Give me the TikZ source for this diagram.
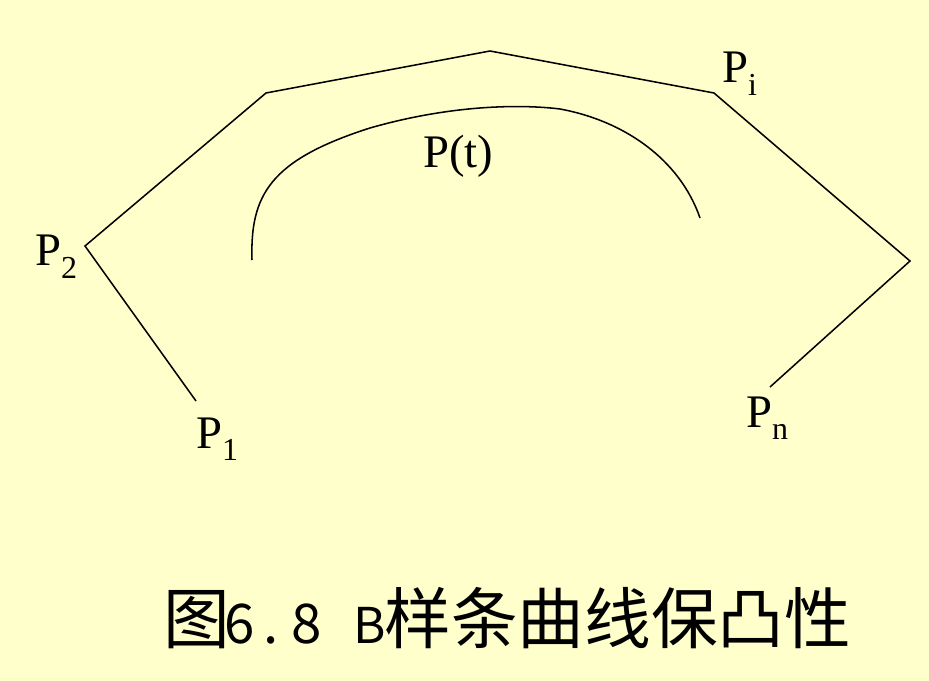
\documentclass[tikz,border=0pt]{standalone}
\usepackage{fontspec}
\setmainfont{Liberation Serif}
\newfontfamily\cjkfont{Noto Sans CJK SC}
\definecolor{bgyellow}{HTML}{FFFFCC}
\newcommand\sbsc[1]{\raisebox{-9.5pt}{\fontsize{24}{24}\selectfont #1}}
\newcommand\putat[2]{\rlap{\hspace{#1}#2}}
\newcommand\latsz{\fontsize{41}{41}\selectfont}
\newcommand\bsz{\fontsize{37}{37}\selectfont}
\tikzset{
  polyline/.style={line width=1.15pt, line join=miter},
  curveline/.style={line width=1.15pt},
  lbl/.style={anchor=base west, inner sep=0pt, font=\fontsize{35}{35}\selectfont},
  captionlbl/.style={anchor=base west, inner sep=0pt, font=\cjkfont\fontsize{50}{50}\selectfont}
}
\begin{document}
\begin{tikzpicture}[x=0.75pt,y=-0.75pt]
\fill[bgyellow] (0,0) rectangle (929,681);
\useasboundingbox (0,0) rectangle (929,681);
\coordinate (p1) at (196,401);
\coordinate (p2) at (85,246);
\coordinate (va) at (266,93);
\coordinate (vb) at (490,51);
\coordinate (pi) at (714,93);
\coordinate (vc) at (910,261);
\coordinate (pn) at (770,387);
\draw[polyline] (p1) -- (p2) -- (va) -- (vb) -- (pi) -- (vc) -- (pn);
\coordinate (cs) at (252,260);
\coordinate (c1) at (370,128);
\coordinate (c2) at (560,109);
\coordinate (ce) at (700,218);
\draw[curveline] (cs) .. controls (250,195) and (270,160) .. (c1)
  .. controls (450,105) and (520,104) .. (c2)
  .. controls (625,121) and (680,160) .. (ce);
\node[lbl] (l2) at (35,266) {P\sbsc{2}};
\node[lbl] (l1) at (196,448) {P\sbsc{1}};
\node[lbl] (li) at (722,83) {P\sbsc{i}};
\node[lbl] (ln) at (746,427) {P\sbsc{n}};
\node[lbl] (lt) at (423,168) {P(t)};
\node[captionlbl] (cap) at (163,643) {\putat{0pt}{图}\putat{46pt}{\latsz 6}\putat{75pt}{\latsz .}\putat{96pt}{\latsz 8}\putat{143pt}{\bsz B}\hspace{166pt}样条曲线保凸性};
\end{tikzpicture}
\end{document}
